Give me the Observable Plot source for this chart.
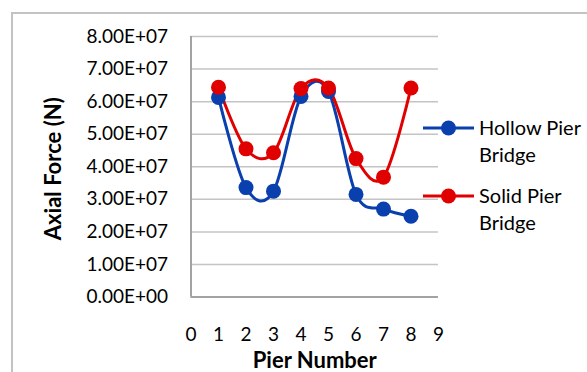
<!DOCTYPE html>
<html><head><meta charset="utf-8">
<script src="https://cdn.jsdelivr.net/npm/d3@7"></script>
<script src="https://cdn.jsdelivr.net/npm/@observablehq/plot@0.6"></script>
<style>
html,body{margin:0;padding:0;background:#fff;overflow:hidden}
#wrap{position:relative;width:587px;height:372px;overflow:hidden}
#frame{position:absolute;left:11px;top:12px;width:700px;height:500px;border-left:2px solid #c3c3c3;border-top:2px solid #c3c3c3}
#chart{position:absolute;left:0;top:0}
</style></head><body>
<div id="wrap"><div id="frame"></div><div id="chart"></div></div>
<script>
const piers = [1, 2, 3, 4, 5, 6, 7, 8];
const hollow = [6.13e7, 3.36e7, 3.25e7, 6.16e7, 6.31e7, 3.15e7, 2.70e7, 2.48e7];
const solid = [6.44e7, 4.55e7, 4.43e7, 6.40e7, 6.42e7, 4.25e7, 3.68e7, 6.42e7];
const seriesNames = ["Hollow Pier Bridge", "Solid Pier Bridge"];
const legendLines = [["Hollow Pier", "Bridge"], ["Solid Pier", "Bridge"]];
const seriesColors = ["#0a3fae", "#e00000"];
const yTicks = [0, 1e7, 2e7, 3e7, 4e7, 5e7, 6e7, 7e7, 8e7];
const xTicks = [0, 1, 2, 3, 4, 5, 6, 7, 8, 9];
const yTitle = "Axial Force (N)";
const xTitle = "Pier Number";

const data = [];
[hollow, solid].forEach((vals, s) => piers.forEach((p, i) => data.push({pier: p, value: vals[i], series: seriesNames[s]})));

const fmt = v => {
  if (v === 0) return "0.00E+00";
  const e = Math.floor(Math.log10(v) + 1e-9);
  const m = v / Math.pow(10, e);
  return m.toFixed(2) + "E+" + String(e).padStart(2, "0");
};

const mL = 190.5, mR = 149, mT = 36, mB = 75.5;
const plot = Plot.plot({
  width: 587, height: 372,
  marginLeft: mL, marginRight: mR, marginTop: mT, marginBottom: mB,
  style: {fontFamily: "Lato, 'Open Sans', sans-serif", fontSize: "19px", background: "transparent", color: "#000"},
  x: {domain: [0, 9]},
  y: {domain: [0, 8e7]},
  color: {domain: seriesNames, range: seriesColors},
  marks: [
    Plot.gridY(yTicks, {stroke: "#c4c4c4", strokeOpacity: 1, strokeWidth: 1.5}),
    Plot.ruleX([0], {stroke: "#a3a3a3", strokeWidth: 2}),
    Plot.ruleY([0], {stroke: "#a3a3a3", strokeWidth: 2}),
    Plot.axisY(yTicks, {tickSize: 0, tickPadding: 23, tickFormat: fmt, label: null, fontSize: 19}),
    Plot.axisX(xTicks, {tickSize: 0, tickPadding: 30, tickFormat: d => String(d), label: null, fontSize: 19}),
    Plot.line(data, {x: "pier", y: "value", z: "series", stroke: "series", curve: "cardinal", strokeWidth: 3}),
    Plot.dot(data, {x: "pier", y: "value", fill: "series", r: 7.5}),
    Plot.text([yTitle], {frameAnchor: "left", rotate: -90, dx: -137.5, dy: 2, fontWeight: "bold", fontSize: 22, textAnchor: "middle", lineAnchor: "middle"}),
    Plot.text([xTitle], {frameAnchor: "bottom", dy: 63.5, fontWeight: "bold", fontSize: 22, textAnchor: "middle", lineAnchor: "middle"})
  ]
});
document.getElementById("chart").appendChild(plot);

// legend
const svg = d3.select(plot);
const lg = svg.append("g")
  .attr("font-family", "Lato, 'Open Sans', sans-serif")
  .attr("font-size", 20)
  .attr("text-anchor", "start");
const legendY = [128, 196];
seriesNames.forEach((name, i) => {
  const y = legendY[i];
  lg.append("line").attr("x1", 423).attr("x2", 474).attr("y1", y).attr("y2", y)
    .attr("stroke", seriesColors[i]).attr("stroke-width", 3);
  lg.append("circle").attr("cx", 448.5).attr("cy", y).attr("r", 7.5).attr("fill", seriesColors[i]);
  legendLines[i].forEach((t, j) => {
    lg.append("text").attr("x", 479).attr("y", y + j * 27).attr("dy", "0.35em")
      .attr("text-anchor", "start").attr("fill", "#000").text(t);
  });
});
</script>
</body></html>
